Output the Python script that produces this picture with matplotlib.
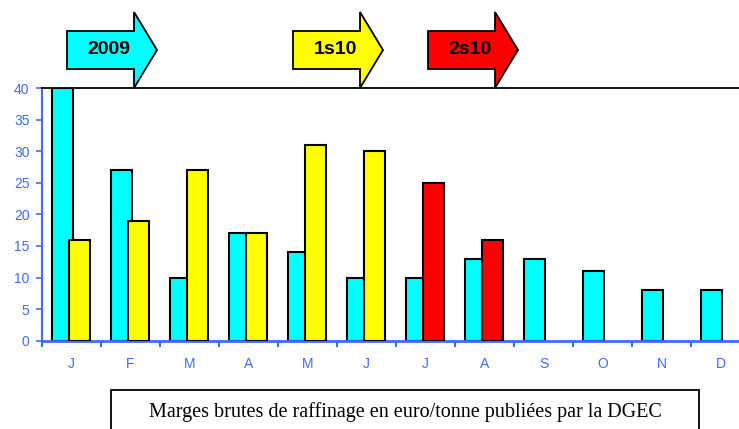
import matplotlib
matplotlib.use("Agg")
import matplotlib.pyplot as plt
from matplotlib.patches import Polygon, Rectangle
import numpy as np

months = ["J", "F", "M", "A", "M", "J", "J", "A", "S", "O", "N", "D"]
margins_2009 = [40, 27, 10, 17, 14, 10, 10, 13, 13, 11, 8, 8]
margins_1s10 = [16, 19, 27, 17, 31, 30, None, None, None, None, None, None]
margins_2s10 = [None, None, None, None, None, None, 25, 16, None, None, None, None]
period_labels = ["2009", "1s10", "2s10"]
period_colors = ["#00FFFF", "#FFFF00", "#FF0000"]
yticks = [0, 5, 10, 15, 20, 25, 30, 35, 40]

BLUE = "#3D6BFF"
W, H = 739, 429
fig = plt.figure(figsize=(W / 100, H / 100), dpi=100)

def fx(px):
    return px / W

def fy(py):
    return 1 - py / H

ax = fig.add_axes([fx(42), fy(340.7), fx(708), (340.7 - 88) / H])

x = np.arange(len(months))
bw = 0.355
cyan_off, other_off = -0.16, 0.13

ax.bar(x + cyan_off, margins_2009, width=bw, color=period_colors[0],
       edgecolor="black", linewidth=1.5, zorder=2)
for vals, col in [(margins_1s10, period_colors[1]), (margins_2s10, period_colors[2])]:
    xi = [xx for xx, v in zip(x, vals) if v is not None]
    vi = [v for v in vals if v is not None]
    ax.bar(np.array(xi) + other_off, vi, width=bw, color=col,
           edgecolor="black", linewidth=1.5, zorder=3)

ax.set_xlim(-0.5, 11.5)
ax.set_ylim(0, 40)
ax.set_yticks(yticks)
ax.set_xticks(x)
ax.set_xticklabels(months)
ax.set_xticks(np.arange(-0.5, 11.6, 1), minor=True)
ax.tick_params(axis="x", which="major", length=0, pad=12, labelcolor=BLUE,
               labelsize=10)
ax.tick_params(axis="x", which="minor", length=4, width=1.5, color=BLUE,
               direction="out")
ax.tick_params(axis="y", length=4, width=1.2, color=BLUE, labelcolor=BLUE,
               labelsize=10, pad=5)
for lab in ax.get_xticklabels() + ax.get_yticklabels():
    lab.set_fontfamily("Liberation Sans")

ax.spines["left"].set_color(BLUE)
ax.spines["left"].set_linewidth(1.5)
ax.spines["bottom"].set_color(BLUE)
ax.spines["bottom"].set_linewidth(2)
ax.spines["top"].set_color("black")
ax.spines["top"].set_linewidth(1.3)
ax.spines["right"].set_visible(False)

# period arrows (annotation shapes, in pixel layout)
arrow_lefts = [67, 293, 428]
body_len = 67
head_len = 23
for left, lab, col in zip(arrow_lefts, period_labels, period_colors):
    hb = left + body_len
    tip = hb + head_len
    pts = [(left, 31), (hb, 31), (hb, 12), (tip, 50), (hb, 88), (hb, 69), (left, 69)]
    poly = Polygon([(fx(a), fy(b)) for a, b in pts], closed=True,
                   transform=fig.transFigure, facecolor=col,
                   edgecolor="black", linewidth=1.3, zorder=5)
    fig.patches.append(poly)
    fig.text(fx((left + tip) / 2 - 3), fy(50), lab, ha="center", va="center",
             fontsize=14, fontweight="bold", family="Liberation Sans", zorder=6)

# caption box
box = Rectangle((fx(111), fy(440)), fx(699 - 111), (440 - 390) / H,
                transform=fig.transFigure, facecolor="white",
                edgecolor="black", linewidth=1.3)
fig.patches.append(box)
fig.text(fx(405), fy(412), "Marges brutes de raffinage en euro/tonne publiées par la DGEC",
         ha="center", va="center", fontsize=14.5, family="Liberation Serif")

fig.savefig("out.png", dpi=100)
